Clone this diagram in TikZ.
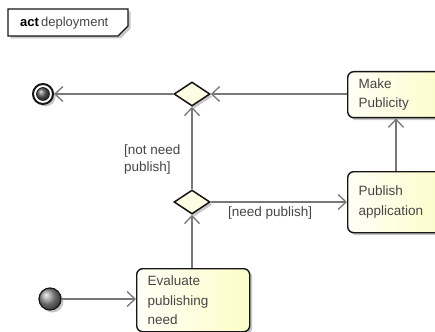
\documentclass[tikz,border=0pt]{standalone}
\usepackage{fontspec}
\setmainfont{Liberation Sans}
\usetikzlibrary{arrows.meta,shapes.geometric,shadows}
\definecolor{boxfillA}{RGB}{255,255,246}
\definecolor{boxfillB}{RGB}{252,252,200}
\definecolor{lineG}{RGB}{120,120,120}
\definecolor{txtG}{RGB}{70,70,70}
\definecolor{edgeK}{RGB}{22,22,22}
\begin{document}
\begin{tikzpicture}[x=1pt,y=-1pt,
  shadowstyle/.style={drop shadow={shadow xshift=2.5pt,shadow yshift=-2.5pt,opacity=0.22,fill=black}},
  act/.style={rectangle, rounded corners=6pt, draw=edgeK, line width=1.4pt,
    left color=boxfillA, right color=boxfillB, align=left, text=txtG,
    font=\fontsize{13.5}{19.5}\selectfont, anchor=north west, inner xsep=11pt, inner ysep=0pt, shadowstyle},
  decision/.style={diamond, draw=edgeK, line width=1.5pt, fill=boxfillA!60!boxfillB,
    minimum width=36pt, minimum height=24pt, inner sep=0pt, aspect=1.5, shadowstyle},
  flow/.style={draw=lineG, line width=1.3pt, -{Straight Barb[length=8pt,width=15pt,line width=1.3pt]}},
  guard/.style={text=txtG, font=\fontsize{13.5}{17}\selectfont, align=left, inner sep=0pt}]
\clip (0,0) rectangle (435,331);
\fill[white] (0,0) rectangle (435,331);
% frame label
\draw[edgeK, line width=1.2pt, fill=white, shadowstyle] (8,9) -- (128,9) -- (128,26) -- (118,36) -- (8,36) -- cycle;
\node[anchor=west, inner sep=0pt, font=\fontsize{13}{14}\selectfont] (lbl) at (20,23) {\textbf{act}\,\textcolor{txtG}{deployment}};
% activities
\node[act, minimum width=100pt, minimum height=46pt, text width=78pt] (mp) at (347,71) {Make\\Publicity};
\node[act, minimum width=100pt, minimum height=61pt, text width=78pt] (pa) at (347,171) {Publish\\application};
\node[act, minimum width=113pt, minimum height=63pt, text width=91pt] (ev) at (136,268) {Evaluate\\publishing\\need};
% decisions
\node[decision] (d1) at (192,94) {};
\node[decision] (d2) at (192,202) {};
% initial / final
\node[circle, draw=edgeK, line width=2pt, fill=white, minimum size=20pt, inner sep=0pt, shadowstyle] (fin) at (43,94) {};
\node[circle, draw=edgeK, line width=0.6pt, ball color=gray!75!black, minimum size=13pt, inner sep=0pt] (finc) at (fin) {};
\node[circle, draw=edgeK, line width=1.2pt, ball color=gray!85, minimum size=22pt, inner sep=0pt, shadowstyle] (ini) at (50,299) {};
\coordinate (vx) at (396,0);
% flows
\draw[flow] (ini) -- (ini -| ev.west);
\draw[flow] (d2.south |- ev.north) -- (d2.south);
\draw[flow] (d2.north) -- (d1.south);
\draw[flow] (d2.east) -- (d2.east -| pa.west);
\draw[flow] (pa.north -| vx) -- (mp.south -| vx);
\draw[flow] (d1.east -| mp.west) -- (d1.east);
\draw[flow] (d1.west) -- (fin.east);
% guards
\node[guard, anchor=north west] (lnn) at (124,145) {[not need\\publish]};
\node[guard, anchor=north west] (lnp) at (228,207) {[need publish]};
\end{tikzpicture}
\end{document}
